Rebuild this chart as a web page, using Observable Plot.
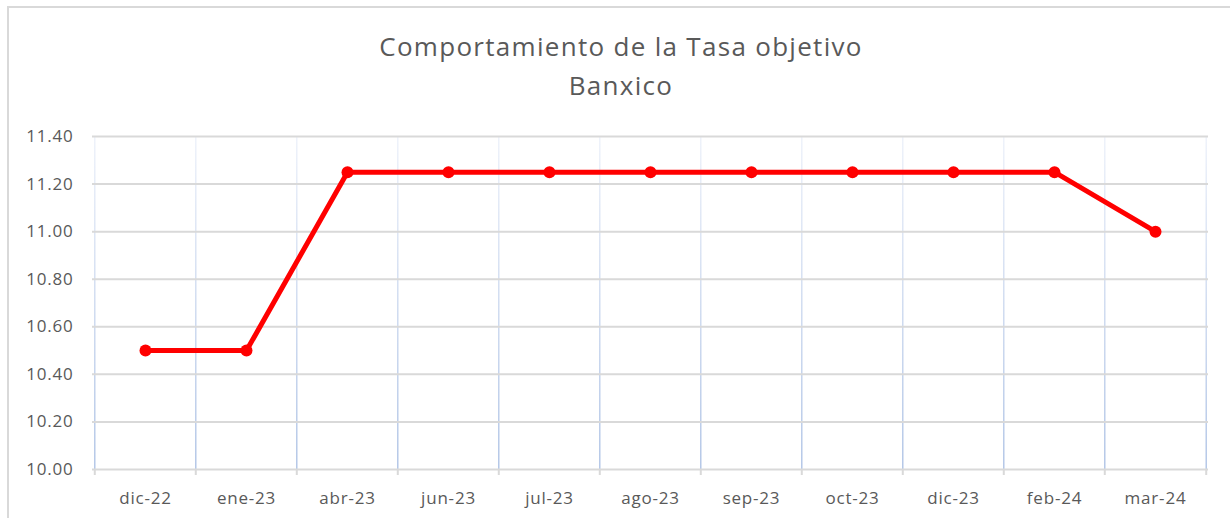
<!DOCTYPE html>
<html><head><meta charset="utf-8">
<script src="https://cdn.jsdelivr.net/npm/d3@7"></script>
<script src="https://cdn.jsdelivr.net/npm/@observablehq/plot@0.6"></script>
<style>
body{margin:0;background:#fff;font-family:"Open Sans",sans-serif;}
#wrap{position:relative;width:1230px;height:518px;overflow:hidden;}
#frame{position:absolute;left:7px;top:6px;width:1300px;height:600px;border-top:2px solid #d9d9d9;border-left:2px solid #d9d9d9;box-sizing:border-box;pointer-events:none}
#title{height:110px;box-sizing:border-box;padding-top:27px;text-align:center;color:#595959;font-size:26px;letter-spacing:1.3px;line-height:39px;padding-left:12px}
#chart svg{display:block}
#chart svg text{letter-spacing:0.8px}
</style></head><body>
<div id="wrap"><div id="frame"></div><div id="title">Comportamiento de la Tasa objetivo<br>Banxico</div><div id="chart"></div></div>
<script>
const categories = ["dic-22","ene-23","abr-23","jun-23","jul-23","ago-23","sep-23","oct-23","dic-23","feb-24","mar-24"];
const values = [10.50,10.50,11.25,11.25,11.25,11.25,11.25,11.25,11.25,11.25,11.00];
const yTicks = [10.00,10.20,10.40,10.60,10.80,11.00,11.20,11.40];

const data = categories.map((c,i)=>({fecha:c, tasa:values[i]}));
const W=1230,H=408,mL=92,mR=22,mT=26,mB=49;
const step=(W-mL-mR)/categories.length;
const last=[categories[categories.length-1]];

const plot = Plot.plot({
  width:W,height:H,marginLeft:mL,marginRight:mR,marginTop:mT,marginBottom:mB,
  style:{fontFamily:"Open Sans",fontSize:"17px",color:"#595959",background:"transparent"},
  x:{type:"point",domain:categories,padding:0.5,label:null},
  y:{domain:[yTicks[0],yTicks[yTicks.length-1]],ticks:yTicks,label:null},
  marks:[
    Plot.ruleX(categories,{x:d=>d,dx:-step/2,stroke:"#b4c7e7",strokeWidth:1.5}),
    Plot.ruleX(last,{x:d=>d,dx:step/2,stroke:"#b4c7e7",strokeWidth:1.5}),
    Plot.gridY(yTicks,{stroke:"#d9d9d9",strokeOpacity:1,strokeWidth:2}),
    Plot.ruleX(categories,{x:d=>d,dx:-step/2,y1:()=>yTicks[0],y2:()=>yTicks[0],insetBottom:-6,stroke:"#d9d9d9",strokeWidth:2}),
    Plot.ruleX(last,{x:d=>d,dx:step/2,y1:()=>yTicks[0],y2:()=>yTicks[0],insetBottom:-6,stroke:"#d9d9d9",strokeWidth:2}),
    Plot.axisY(yTicks,{tickSize:0,tickPadding:19,tickFormat:d3.format(".2f"),fill:"#595959",fontSize:17}),
    Plot.axisX({tickSize:0,tickPadding:22,fill:"#595959",fontSize:17}),
    Plot.line(data,{x:"fecha",y:"tasa",stroke:"#ff0000",strokeWidth:5,strokeLinejoin:"round"}),
    Plot.dot(data,{x:"fecha",y:"tasa",r:6,fill:"#ff0000"})
  ]
});

const ns="http://www.w3.org/2000/svg";
const defs=document.createElementNS(ns,"defs");
const grad=document.createElementNS(ns,"linearGradient");
grad.setAttribute("id","vgrad");grad.setAttribute("gradientUnits","userSpaceOnUse");
grad.setAttribute("x1","0");grad.setAttribute("x2","0");
grad.setAttribute("y1",String(mT));grad.setAttribute("y2",String(H-mB));
[["0","#eef2fa"],["1","#b4c7e7"]].forEach(([o,c])=>{const s=document.createElementNS(ns,"stop");s.setAttribute("offset",o);s.setAttribute("stop-color",c);grad.appendChild(s);});
defs.appendChild(grad);plot.insertBefore(defs,plot.firstChild);
const rules=plot.querySelectorAll('g[aria-label="rule"]');
[rules[0],rules[1]].forEach(g=>{if(g){g.setAttribute("stroke","url(#vgrad)");g.querySelectorAll("line").forEach(l=>l.setAttribute("stroke","url(#vgrad)"));}});
document.getElementById("chart").appendChild(plot);
</script>
</body></html>
